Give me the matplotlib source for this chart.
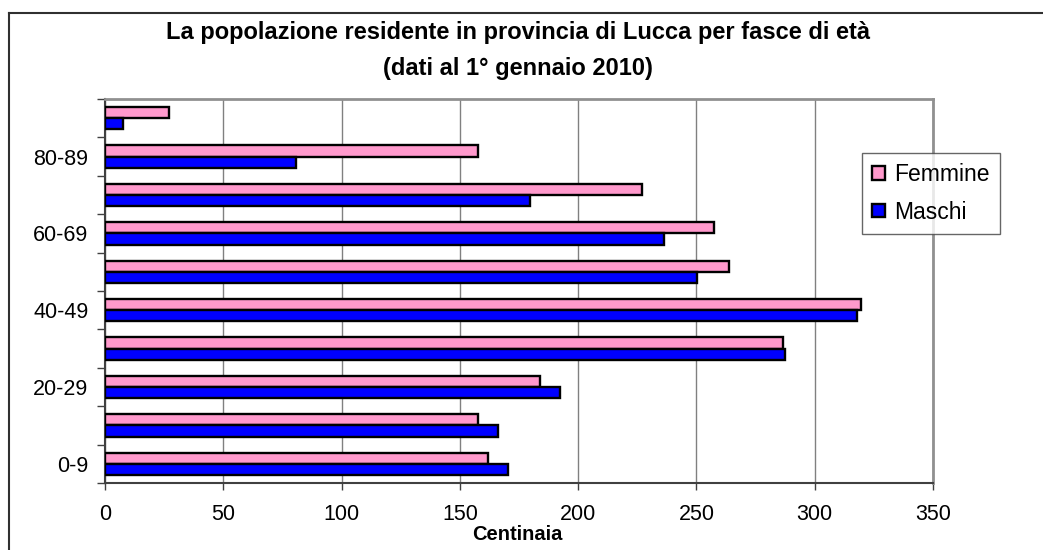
import numpy as np
import matplotlib
matplotlib.use("Agg")
import matplotlib.pyplot as plt
from matplotlib.lines import Line2D

plt.rcParams['font.family'] = ['Liberation Sans', 'DejaVu Sans']

# Data (hundreds of residents), bottom to top
classi = ["0-9", "10-19", "20-29", "30-39", "40-49",
          "50-59", "60-69", "70-79", "80-89", "90+"]
femmine = [161.7, 157.6, 183.9, 286.4, 319.6, 263.7, 257.6, 227.0, 157.6, 27.0]
maschi = [170.3, 166.1, 192.5, 287.4, 317.9, 250.1, 236.5, 179.8, 80.6, 7.6]
# only every other category label is shown in the original
etichette = [c if i % 2 == 0 else "" for i, c in enumerate(classi)]

W, H = 1043, 550
fig = plt.figure(figsize=(W / 100, H / 100), dpi=100)
fig.patch.set_facecolor("white")

# plot area in pixels: left 105, right 933, top 99, bottom 483
ax = fig.add_axes([105 / W, 1 - 483 / H, (933 - 105) / W, (483 - 99) / H])

y = np.arange(len(classi))
h = 0.29
ax.barh(y + h / 2, femmine, height=h, color="#FF99CC", edgecolor="black",
        linewidth=1.7, label="Femmine", zorder=3)
ax.barh(y - h / 2, maschi, height=h, color="#0000FF", edgecolor="black",
        linewidth=1.7, label="Maschi", zorder=3)

ax.set_xlim(0, 350)
ax.set_ylim(-0.5, len(classi) - 0.5)
ax.set_xticks(np.arange(0, 351, 50))
ax.tick_params(axis="x", labelsize=15.5, length=5, width=1, color="#404040", pad=10)

# tick marks at category boundaries, labels at category centres
ax.set_yticks(np.arange(-0.5, len(classi), 1.0))
ax.set_yticklabels([])
ax.tick_params(axis="y", which="major", length=6, width=1, color="#404040")
ax.set_yticks(y, minor=True)
ax.set_yticklabels(etichette, minor=True)
ax.tick_params(axis="y", which="minor", length=0, labelsize=15.5, pad=12)

ax.grid(axis="x", color="#808080", linewidth=1, zorder=0)
ax.set_axisbelow(True)

for s in ["top", "right"]:
    ax.spines[s].set_color("#909090")
    ax.spines[s].set_linewidth(2)
for s in ["left", "bottom"]:
    ax.spines[s].set_color("#404040")
    ax.spines[s].set_linewidth(1.5)

fig.text(518 / W, 1 - 33 / H, "La popolazione residente in provincia di Lucca per fasce di età",
         ha="center", va="center", fontsize=17, fontweight="bold")
fig.text(518 / W, 1 - 68 / H, "(dati al 1° gennaio 2010)",
         ha="center", va="center", fontsize=17, fontweight="bold")
fig.text(517 / W, 1 - 534 / H, "Centinaia", ha="center", va="center",
         fontsize=14.5, fontweight="bold")

leg = fig.legend(loc="upper left", bbox_to_anchor=(862 / W, 1 - 153 / H),
                 fontsize=16.5, frameon=True, fancybox=False, shadow=False,
                 handlelength=0.55, handleheight=0.55, handletextpad=0.4,
                 labelspacing=0.62, borderpad=0.45, borderaxespad=0)
leg.get_frame().set_edgecolor("#404040")
leg.get_frame().set_linewidth(1)

# outer chart border (left and top visible)
fig.add_artist(Line2D([9 / W, 9 / W], [0, 1 - 13 / H], transform=fig.transFigure,
                      color="#303030", linewidth=1.5))
fig.add_artist(Line2D([9 / W, 1], [1 - 13 / H, 1 - 13 / H], transform=fig.transFigure,
                      color="#303030", linewidth=1.5))

fig.savefig("out.png", dpi=100)
